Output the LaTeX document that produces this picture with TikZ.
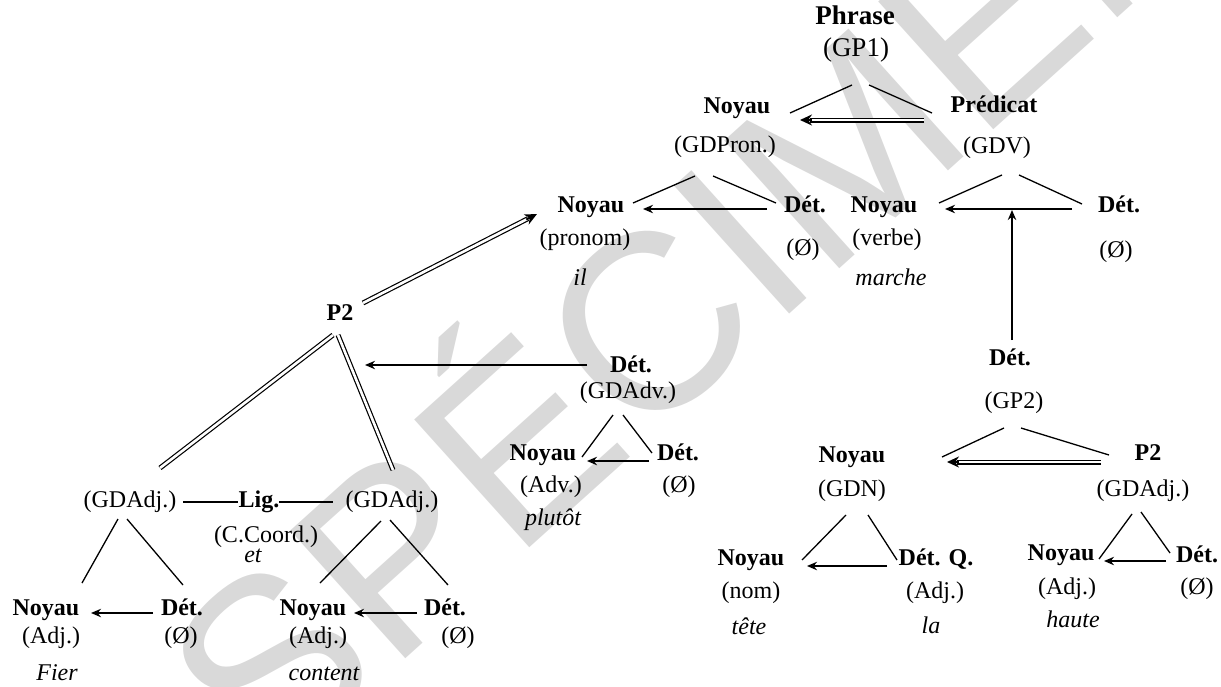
\documentclass[tikz,border=0pt]{standalone}
\usepackage{fontspec}
\setmainfont{Liberation Serif}
\newfontfamily\wmfont{Liberation Sans}
\usetikzlibrary{arrows.meta,calc}
\begin{document}
\begin{tikzpicture}[x=0.5pt,y=-0.5pt,
  every node/.style={inner sep=0pt, text height=8.4pt, text depth=2.6pt, font=\fontsize{12}{14}\selectfont},
  bl/.style={font=\fontsize{12}{14}\selectfont\bfseries},
  it/.style={font=\fontsize{12}{14}\selectfont\itshape},
  big/.style={font=\fontsize{13.5}{16}\selectfont, text height=9.5pt, text depth=3pt},
  bigbl/.style={font=\fontsize{13.5}{16}\selectfont\bfseries, text height=9.5pt, text depth=3pt},
  tree/.style={line width=0.65pt},
  arr/.style={line width=1pt, -{Stealth[length=5pt,width=4.2pt]}},
  dbl/.style={double, double distance=1.3pt, line width=0.6pt},
  dtip/.style={line width=1pt, -{Stealth[length=6pt,width=5.5pt]}},
  wm/.style={text=black!15, font=\wmfont\fontsize{125}{125}\selectfont, text height=, text depth=}
]
\useasboundingbox (0,0) rectangle (1221,686);
% watermark
\node[wm, rotate=42] (watermark) at (680,268) {SPÉCIMEN};

% nodes
\node[bigbl] (ph) at (855,18) {Phrase};
\node[big] (gp1) at (856,50) {(GP1)};
\node[bl] (n1) at (737,108) {Noyau};
\node (gdpron) at (725,147) {(GDPron.)};
\node[bl] (pred) at (994,107) {Prédicat};
\node (gdv) at (997,148) {(GDV)};
\node[bl] (n2) at (591,207) {Noyau};
\node (pronom) at (585,240) {(pronom)};
\node[it] (il) at (580,280) {il};
\node[bl] (d2) at (805,207) {Dét.};
\node (o2) at (803,250) {(Ø)};
\node[bl] (n3) at (884,207) {Noyau};
\node (verbe) at (887,240) {(verbe)};
\node[it] (marche) at (891,280) {marche};
\node[bl] (d3) at (1119,207) {Dét.};
\node (o3) at (1116,252) {(Ø)};
\node[bl] (p2a) at (340,315) {P2};
\node[bl] (d4) at (631,367) {Dét.};
\node (gdadv) at (628,393) {(GDAdv.)};
\node[bl] (n5) at (543,455) {Noyau};
\node (adv) at (551,487) {(Adv.)};
\node[it] (plutot) at (553,520) {plutôt};
\node[bl] (d5) at (678,455) {Dét.};
\node (o5) at (679,487) {(Ø)};
\node[bl] (d6) at (1010,360) {Dét.};
\node (gp2) at (1014,403) {(GP2)};
\node[bl] (n7) at (852,457) {Noyau};
\node (gdn) at (852,491) {(GDN)};
\node[bl] (p2b) at (1148,455) {P2};
\node (gdadj3) at (1143,491) {(GDAdj.)};
\node[bl] (n8) at (751,560) {Noyau};
\node (nom) at (751,593) {(nom)};
\node[it] (tete) at (749,629) {tête};
\node[bl] (dq) at (936,560) {Dét. Q.};
\node (adj8) at (935,593) {(Adj.)};
\node[it] (la) at (931,628) {la};
\node[bl] (n9) at (1061,555) {Noyau};
\node (adj9) at (1067,589) {(Adj.)};
\node[it] (haute) at (1073,622) {haute};
\node[bl] (d9) at (1197,557) {Dét.};
\node (o9) at (1197,589) {(Ø)};
\node (gdadj1) at (130,502) {(GDAdj.)};
\node[bl] (lig) at (259,502) {Lig.};
\node (gdadj2) at (392,502) {(GDAdj.)};
\node (ccoord) at (266,537) {(C.Coord.)};
\node[it] (et) at (253,557) {et};
\node[bl] (n10) at (46,610) {Noyau};
\node (adj10) at (51,638) {(Adj.)};
\node[it] (fier) at (57,675) {Fier};
\node[bl] (d10) at (182,610) {Dét.};
\node (o10) at (181,638) {(Ø)};
\node[bl] (n11) at (313,610) {Noyau};
\node (adj11) at (318,638) {(Adj.)};
\node[it] (content) at (324,675) {content};
\node[bl] (d11) at (445,610) {Dét.};
\node (o11) at (458,638) {(Ø)};

% tree line end points
\coordinate (t1a) at (852,85);  \coordinate (t1b) at (790,113);
\coordinate (t1c) at (869,85);  \coordinate (t1d) at (932,113);
\coordinate (t2a) at (695,176); \coordinate (t2b) at (633,203);
\coordinate (t2c) at (713,176); \coordinate (t2d) at (776,203);
\coordinate (t3a) at (1002,175); \coordinate (t3b) at (939,203);
\coordinate (t3c) at (1019,175); \coordinate (t3d) at (1082,204);
\coordinate (t4a) at (1004,428); \coordinate (t4b) at (942,457);
\coordinate (t4c) at (1021,428); \coordinate (t4d) at (1109,455);
\coordinate (t5a) at (613,415); \coordinate (t5b) at (582,457);
\coordinate (t5c) at (623,415); \coordinate (t5d) at (652,453);
\coordinate (t6a) at (846,515); \coordinate (t6b) at (802,560);
\coordinate (t6c) at (868,515); \coordinate (t6d) at (897,560);
\coordinate (t7a) at (1132,514); \coordinate (t7b) at (1099,559);
\coordinate (t7c) at (1141,512); \coordinate (t7d) at (1170,553);
\coordinate (t8a) at (118,519); \coordinate (t8b) at (82,583);
\coordinate (t8c) at (127,519); \coordinate (t8d) at (183,585);
\coordinate (t9a) at (381,521); \coordinate (t9b) at (320,583);
\coordinate (t9c) at (390,520); \coordinate (t9d) at (448,585);
\foreach \i in {1,...,9}{
  \draw[tree] (t\i a) -- (t\i b);
  \draw[tree] (t\i c) -- (t\i d);
}
% Lig. links
\coordinate (l1a) at (183,502); \coordinate (l1b) at (238,502);
\coordinate (l2a) at (279,502); \coordinate (l2b) at (333,502);
\draw[line width=1pt] (l1a) -- (l1b);
\draw[line width=1pt] (l2a) -- (l2b);

% single arrows (start = Dét. side, end = Noyau side)
\coordinate (a1s) at (767,209);  \coordinate (a1e) at (643,209);
\coordinate (a2s) at (1072,209); \coordinate (a2e) at (945,209);
\coordinate (a3s) at (1012,340); \coordinate (a3e) at (1012,210);
\coordinate (a4s) at (587,365);  \coordinate (a4e) at (365,365);
\coordinate (a5s) at (649,461);  \coordinate (a5e) at (587,461);
\coordinate (a6s) at (887,566);  \coordinate (a6e) at (807,566);
\coordinate (a7s) at (1166,561); \coordinate (a7e) at (1104,561);
\coordinate (a8s) at (153,613);  \coordinate (a8e) at (91,613);
\coordinate (a9s) at (417,613);  \coordinate (a9e) at (354,613);
\foreach \i in {1,...,9}{
  \draw[arr] (a\i s) -- (a\i e);
}

% double links
\coordinate (s1) at (924,120); \coordinate (e1) at (800,120);
\coordinate (s2) at (363,303); \coordinate (e2) at (537,214);
\coordinate (s3) at (1101,462); \coordinate (e3) at (947,462);
\foreach \i in {1,2,3}{
  \draw[dbl] (s\i) -- ($(e\i)!5pt!(s\i)$);
  \draw[dtip] ($(e\i)!6pt!(s\i)$) -- (e\i);
}
\coordinate (s4) at (333,335); \coordinate (e4) at (160,468);
\coordinate (s5) at (338,335); \coordinate (e5) at (393,470);
\draw[dbl] (s4) -- (e4);
\draw[dbl] (s5) -- (e5);
\end{tikzpicture}
\end{document}
